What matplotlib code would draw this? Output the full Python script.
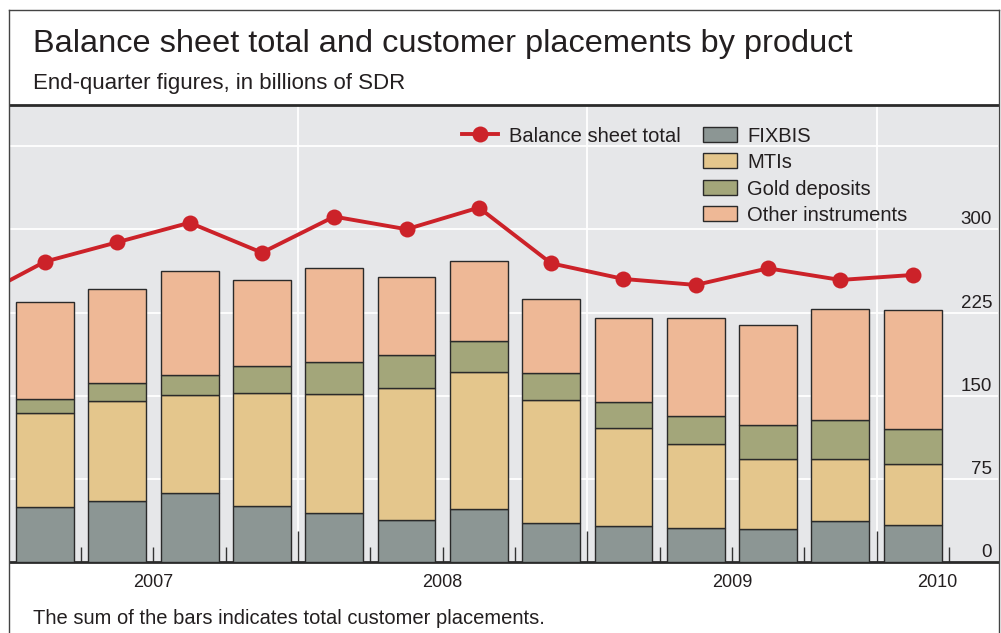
import matplotlib
matplotlib.use("Agg")
import matplotlib.pyplot as plt
from matplotlib.lines import Line2D
from matplotlib.patches import Rectangle
import numpy as np

plt.rcParams["font.family"] = ["Liberation Sans", "DejaVu Sans"]

# End-quarter figures, 2007 Q1 .. 2010 Q1, billions of SDR
quarters = ["2007Q1", "2007Q2", "2007Q3", "2007Q4",
            "2008Q1", "2008Q2", "2008Q3", "2008Q4",
            "2009Q1", "2009Q2", "2009Q3", "2009Q4",
            "2010Q1"]
fixbis = [50.1, 55.0, 62.2, 51.0, 44.2, 38.1, 48.0, 35.7, 32.5, 31.2, 30.0, 37.5, 33.9]
mtis = [84.2, 90.1, 88.3, 101.3, 107.3, 118.7, 123.5, 110.9, 88.9, 75.7, 63.4, 55.6, 54.4]
gold = [12.9, 16.8, 18.6, 24.3, 29.4, 29.7, 28.2, 24.3, 23.4, 25.2, 30.1, 35.2, 32.1]
other = [87.4, 84.5, 93.8, 77.8, 84.2, 70.6, 71.6, 66.7, 75.7, 87.8, 90.7, 99.8, 107.0]

# balance sheet total, starting one quarter earlier (2006 Q4)
bs_quarters = ["2006Q4"] + quarters
bs_total = [236.5, 271.0, 288.5, 306.1, 279.1, 311.6, 300.2, 319.7,
            269.5, 255.4, 250.0, 265.0, 254.5, 259.0]

years = ["2007", "2008", "2009", "2010"]
ytick_vals = [0, 75, 150, 225, 300]

C_FIX = "#8c9694"
C_MTI = "#e4c68c"
C_GOLD = "#a3a67a"
C_OTHER = "#eeb896"
C_RED = "#cc2229"
C_BG = "#e6e7e9"
C_EDGE = "#2a2a2a"
C_TEXT = "#231f20"

W, H = 1001, 633
fig = plt.figure(figsize=(W / 100, H / 100), dpi=100)
fig.patch.set_facecolor("white")


def fx(px):
    return px / W


def fy(py):
    return 1 - py / H


ax = fig.add_axes([fx(10), fy(562.3), fx(998) - fx(10), fy(105) - fy(562.3)])
ax.set_facecolor(C_BG)

x = np.arange(len(quarters))
xb = np.arange(len(bs_quarters)) - 1

# grid
for g in [75, 150, 225, 300, 375]:
    ax.axhline(g, color="white", lw=1.3, zorder=1)
for b in [3.5, 7.5, 11.5]:
    ax.axvline(b, color="white", lw=1.3, zorder=1)

bottom = np.zeros(len(quarters))
for vals, col in [(fixbis, C_FIX), (mtis, C_MTI), (gold, C_GOLD), (other, C_OTHER)]:
    ax.bar(x, vals, width=0.8, bottom=bottom, color=col,
           edgecolor=C_EDGE, linewidth=1.0, zorder=3)
    bottom += np.array(vals)

ax.plot(xb, bs_total, color=C_RED, lw=2.8, marker="o", ms=11.5,
        markeredgewidth=0, zorder=5, clip_on=True)

ax.set_xlim(-0.484, 13.18)
ax.set_ylim(0, 412.2)

# spines
for s in ["left", "right"]:
    ax.spines[s].set_visible(False)
for s in ["top", "bottom"]:
    ax.spines[s].set_color(C_EDGE)
    ax.spines[s].set_linewidth(2.0)

ax.set_yticks([])
ax.set_xticks([3.5, 7.5, 11.5])
ax.set_xticks([q + 0.5 for q in range(len(quarters)) if (q + 0.5) not in (3.5, 7.5, 11.5)], minor=True)
ax.tick_params(axis="x", which="major", direction="in", length=22, width=1.0,
               color="#333333", labelbottom=False)
ax.tick_params(axis="x", which="minor", direction="in", length=11, width=1.0,
               color="#333333")

# y labels on the right, sitting above the gridlines
for v in ytick_vals:
    ax.annotate(str(v), xy=(1, v), xycoords=("axes fraction", "data"),
                xytext=(-6, 5), textcoords="offset pixels",
                ha="right", va="baseline", fontsize=13.5, color=C_TEXT)

# year labels
year_centres = [1.5, 5.5, 9.5]
for yr, c in zip(years[:3], year_centres):
    ax.annotate(yr, xy=(c, 0), xycoords=("data", "axes fraction"),
                xytext=(0, -25), textcoords="offset pixels",
                ha="center", va="baseline", fontsize=13, color=C_TEXT)
ax.annotate(years[3], xy=((11.5 + 13.18) / 2, 0), xycoords=("data", "axes fraction"),
            xytext=(0, -25), textcoords="offset pixels",
            ha="center", va="baseline", fontsize=13, color=C_TEXT)

# legend (drawn by hand)
fig.add_artist(Line2D([fx(462), fx(498)], [fy(134), fy(134)], color=C_RED, lw=2.8))
fig.add_artist(Line2D([fx(480)], [fy(134)], color=C_RED, marker="o", ms=11.5, mew=0))
fig.text(fx(509), fy(134), "Balance sheet total", ha="left", va="center_baseline",
         fontsize=14.5, color=C_TEXT)
leg_items = [("FIXBIS", C_FIX), ("MTIs", C_MTI), ("Gold deposits", C_GOLD),
             ("Other instruments", C_OTHER)]
for i, (lab, col) in enumerate(leg_items):
    yc = 134.5 + i * 26.3
    fig.add_artist(Rectangle((fx(703), fy(yc + 7.5)), fx(34), 15 / H,
                             facecolor=col, edgecolor=C_EDGE, lw=1.0))
    fig.text(fx(747), fy(yc), lab, ha="left", va="center_baseline",
             fontsize=14.5, color=C_TEXT)

# frame
fig.add_artist(Line2D([fx(9), fx(9)], [fy(10), 0], color="#444444", lw=1.0))
fig.add_artist(Line2D([fx(999), fx(999)], [fy(10), 0], color="#444444", lw=1.0))
fig.add_artist(Line2D([fx(9), fx(999)], [fy(10), fy(10)], color="#444444", lw=1.0))

# titles
fig.text(fx(33), fy(52), "Balance sheet total and customer placements by product",
         ha="left", va="baseline", fontsize=23.4, color=C_TEXT)
fig.text(fx(33), fy(89), "End-quarter figures, in billions of SDR",
         ha="left", va="baseline", fontsize=16, color=C_TEXT)
fig.text(fx(33), fy(624), "The sum of the bars indicates total customer placements.",
         ha="left", va="baseline", fontsize=14.5, color=C_TEXT)

fig.savefig("out.png", dpi=100)
